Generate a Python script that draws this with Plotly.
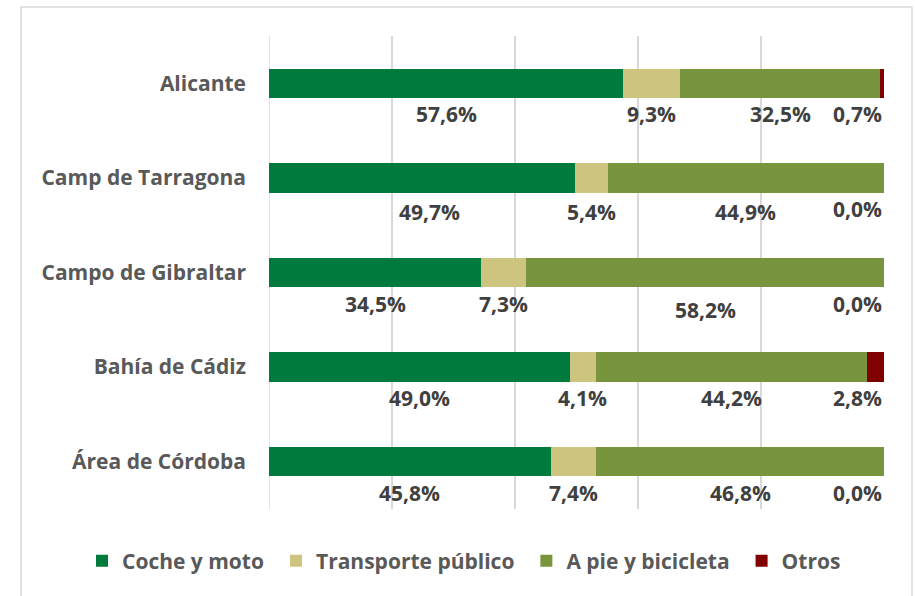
import plotly.graph_objects as go

categories = ["Alicante", "Camp de Tarragona", "Campo de Gibraltar", "Bahía de Cádiz", "Área de Córdoba"]
coche_moto = [57.6, 49.7, 34.5, 49.0, 45.8]
transporte_publico = [9.3, 5.4, 7.3, 4.1, 7.4]
pie_bicicleta = [32.5, 44.9, 58.2, 44.2, 46.8]
otros = [0.7, 0.0, 0.0, 2.8, 0.0]

series_names = ["Coche y moto", "Transporte público", "A pie y bicicleta", "Otros"]
series_values = [coche_moto, transporte_publico, pie_bicicleta, otros]
colors = ["#007A3D", "#CCC47F", "#78943C", "#800000"]

FONT = "Open Sans"
SIZE = 21
PAD = "\u2009\u2009"  # extra spacing between legend entries

fig = go.Figure()
for name, vals, col in zip(series_names, series_values, colors):
    fig.add_trace(go.Bar(
        y=categories, x=vals, name=name + PAD, orientation="h",
        marker=dict(color=col, line=dict(width=0)), width=0.31,
    ))

def fmt(v):
    return f"{v:.1f}%".replace(".", ",")

# small manual label nudges (px) as in the original chart: (row, series) -> (dx, dy)
nudges = {(1, 0): (8, -3), (1, 1): (0, -3), (1, 2): (0, -3), (2, 2): (0, -6)}

annotations = []
for i, cat in enumerate(categories):
    cum = 0.0
    for s, vals in enumerate(series_values):
        v = vals[i]
        last = s == len(series_values) - 1
        dx, dy = nudges.get((i, s), (0, 0))
        annotations.append(dict(
            x=100 if last else cum + v / 2, y=cat, xref="x", yref="y",
            text=fmt(v), showarrow=False,
            xanchor="right" if last else "center", yanchor="middle",
            xshift=dx, yshift=-31 + dy,
            font=dict(family=FONT, size=SIZE, color="#404040", weight="bold")))
        cum += v

fig.update_layout(
    barmode="stack",
    width=915, height=596,
    margin=dict(l=269, r=31, t=36, b=87),
    paper_bgcolor="white", plot_bgcolor="white",
    font=dict(family=FONT, size=SIZE, color="#595959"),
    xaxis=dict(range=[0, 100], dtick=20, showticklabels=False, showgrid=True,
               gridcolor="#D9D9D9", gridwidth=1.5, zeroline=False, showline=False,
               fixedrange=True),
    yaxis=dict(autorange="reversed", showgrid=False, zeroline=False, showline=False,
               ticks="", ticklabelstandoff=22, fixedrange=True,
               tickfont=dict(family=FONT, size=SIZE, color="#595959", weight="bold")),
    legend=dict(orientation="h", traceorder="normal", x=(82 - 269) / 615, y=(509 - 561) / 473,
                xanchor="left", yanchor="middle",
                font=dict(family=FONT, size=SIZE, color="#595959", weight="bold"),
                itemclick=False, itemdoubleclick=False),
    annotations=annotations,
    showlegend=True,
    hovermode=False,
)

# outer chart border
fig.add_shape(type="rect", xref="paper", yref="paper",
              x0=(21 - 269) / 615, x1=(912 - 269) / 615,
              y0=(509 - 600) / 473, y1=1 + (36 - 7) / 473,
              line=dict(color="#D9D9D9", width=1.5), fillcolor="rgba(0,0,0,0)", layer="below")
# zero line at left
fig.add_vline(x=0, line=dict(color="#D9D9D9", width=1.5), layer="below")

fig.write_html("out.html", config={"displayModeBar": False},
               post_script="document.body.style.margin='0';")
